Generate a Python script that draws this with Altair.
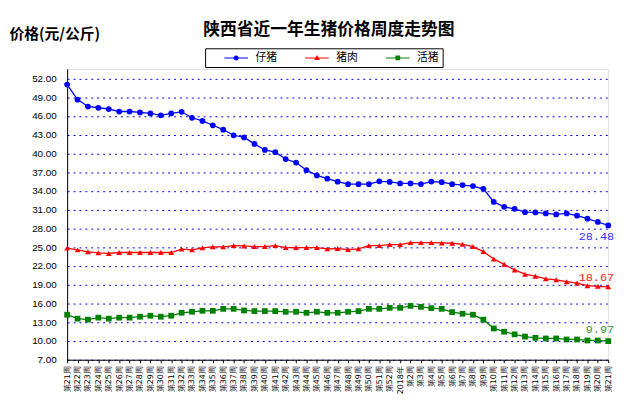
import altair as alt
import pandas as pd
import json

weeks = [f"第{i}周" for i in range(21, 53)] + ["2018年"] + [f"第{i}周" for i in range(2, 22)]

piglet = [51.0, 48.6, 47.5, 47.3, 47.1, 46.7, 46.7, 46.55, 46.4, 46.1, 46.4, 46.65, 45.7, 45.2, 44.5, 43.8, 42.9,
          42.56, 41.52, 40.55, 40.2, 39.1, 38.53, 37.32, 36.48, 35.95, 35.48, 35.07, 35.07, 35.07, 35.54, 35.43,
          35.2, 35.2, 35.1, 35.5, 35.4, 35.08, 34.93, 34.78, 34.33, 32.24, 31.45, 31.13, 30.6, 30.56, 30.4, 30.24,
          30.4, 30.04, 29.56, 29.03, 28.48]
pork = [24.85, 24.57, 24.26, 24.1, 24.0, 24.15, 24.15, 24.15, 24.15, 24.15, 24.15, 24.7, 24.57, 24.89, 25.05, 25.05,
        25.25, 25.2, 25.1, 25.1, 25.25, 24.94, 24.94, 24.94, 24.94, 24.73, 24.78, 24.62, 24.73, 25.25, 25.25, 25.41,
        25.41, 25.73, 25.73, 25.73, 25.68, 25.63, 25.46, 25.1, 24.3, 23.1, 22.26, 21.37, 20.68, 20.37, 19.95, 19.79,
        19.48, 19.26, 18.85, 18.74, 18.67]
hog = [14.2, 13.57, 13.41, 13.73, 13.57, 13.73, 13.73, 13.88, 14.04, 13.88, 14.04, 14.51, 14.67, 14.83, 14.83, 15.14,
       15.14, 14.88, 14.78, 14.78, 14.78, 14.67, 14.67, 14.51, 14.67, 14.51, 14.51, 14.67, 14.78, 15.14, 15.14, 15.3,
       15.3, 15.61, 15.46, 15.25, 15.14, 14.62, 14.36, 14.2, 13.41, 12.0, 11.48, 11.06, 10.7, 10.5, 10.4, 10.4, 10.24,
       10.24, 10.08, 10.08, 9.97]

series_names = ["仔猪", "猪肉", "活猪"]
series_colors = ["#0000FF", "#FF0000", "#008000"]
label_colors = ["#3333FF", "#FF2020", "#339933"]
label_dy = [11, -10, -12]
point_shapes = ["circle", "triangle-up", "square"]
legend_paths = [
    "M-4,-0.17H4V0.17H-4Z M0.85,0 A0.85,0.85 0 1,1 -0.85,0 A0.85,0.85 0 1,1 0.85,0Z",
    "M-4,-0.17H4V0.17H-4Z M0,-1 L0.95,0.75 L-0.95,0.75Z",
    "M-4,-0.17H4V0.17H-4Z M-0.8,-0.8H0.8V0.8H-0.8Z",
]
y_ticks = [7, 10, 13, 16, 19, 22, 25, 28, 31, 34, 37, 40, 43, 46, 49, 52]

rows = []
for name, vals in zip(series_names, [piglet, pork, hog]):
    for i, v in enumerate(vals):
        rows.append({"idx": i, "series": name, "value": v})
df = pd.DataFrame(rows)

n = len(weeks)
label_expr = json.dumps(weeks, ensure_ascii=False) + "[datum.value]"

x_enc = alt.X("idx:O", scale=alt.Scale(type="point", padding=0),
              axis=alt.Axis(title=None, labelAngle=270, labelFontSize=8, labelFont="DejaVu Sans",
                            labelAlign="right", labelBaseline="middle", labelPadding=3, labelExpr=label_expr,
                            tickSize=3, tickColor="black", domainColor="black", grid=False,
                            labelOverlap=False, labelColor="black"))
y_enc = alt.Y("value:Q", scale=alt.Scale(domain=[7, 53.5], nice=False, zero=False),
              axis=alt.Axis(values=y_ticks, format=".2f", title="价格(元/公斤)", titleAngle=0,
                            titleX=-59, titleY=-36, titleAlign="left", titleBaseline="middle",
                            titleFontSize=15, titleFont="Noto Sans CJK SC", titleFontWeight="bold",
                            labelFontSize=10, labelFont="Liberation Sans", labelColor="black",
                            labelPadding=11, ticks=False, domainColor="black",
                            grid=True, gridColor="#0000FF", gridDash=[2, 4], gridWidth=1))

color_scale = alt.Scale(domain=series_names, range=series_colors)

lines = alt.Chart(df).mark_line(strokeWidth=1.3).encode(
    x=x_enc, y=y_enc,
    color=alt.Color("series:N", scale=color_scale, legend=None),
)
points = alt.Chart(df).mark_point(filled=True, size=34, opacity=1).encode(
    x=x_enc, y=y_enc,
    color=alt.Color("series:N", scale=color_scale, legend=None),
    shape=alt.Shape("series:N", scale=alt.Scale(domain=series_names, range=point_shapes), legend=None),
)

nbsp = "\u00a0" * 12
legend_props = dict(title=None, orient="none", legendX=140, legendY=-21,
                    direction="horizontal", symbolSize=36, symbolOpacity=1,
                    symbolOffset=22, labelOffset=14, columnPadding=13,
                    labelFont="Noto Sans CJK SC", labelFontSize=11,
                    labelExpr=f"datum.label == '活猪' ? datum.label + '{nbsp}' : datum.label",
                    labelColor="black", strokeColor="black", padding=4,
                    symbolStrokeWidth=0)
legend_layer = alt.Chart(df).transform_filter("datum.idx < 0").mark_point(filled=True).encode(
    x=x_enc, y=y_enc,
    color=alt.Color("series:N", scale=color_scale, legend=alt.Legend(**legend_props)),
    shape=alt.Shape("series:N", scale=alt.Scale(domain=series_names, range=legend_paths),
                    legend=alt.Legend(**legend_props)),
)

label_layers = []
for name, vals, col, dy in zip(series_names, [piglet, pork, hog], label_colors, label_dy):
    d = pd.DataFrame({"idx": [n - 1], "value": [vals[-1]], "label": [f"{vals[-1]:.2f}"]})
    label_layers.append(
        alt.Chart(d).mark_text(align="right", baseline="middle", dx=6, dy=dy, font="Liberation Mono",
                               fontSize=12, color=col).encode(x=x_enc, y=y_enc, text="label:N")
    )

chart = alt.layer(lines, points, legend_layer, *label_layers).resolve_scale(
    shape="independent", color="independent"
).properties(
    width=549, height=295,
    title=alt.TitleParams("陕西省近一年生猪价格周度走势图", font="Noto Sans CJK SC", fontSize=17,
                          fontWeight="bold", anchor="middle", dx=-9, offset=0, dy=13, color="black"),
    autosize=alt.AutoSizeParams(type="none"),
    padding={"left": 60, "top": 59, "right": 16, "bottom": 40},
).configure_view(strokeWidth=0).configure(background="white")

chart.save("out.html", embed_options={"renderer": "svg", "actions": False})
